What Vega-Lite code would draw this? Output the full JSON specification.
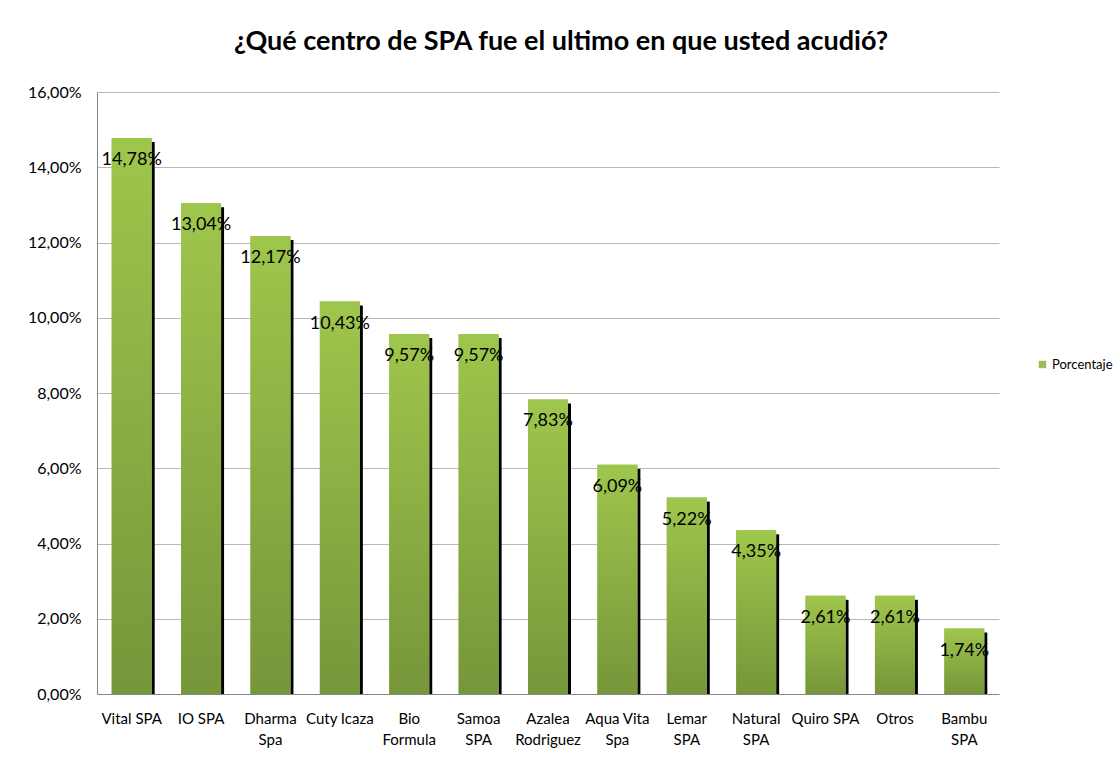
{
  "$schema": "https://vega.github.io/schema/vega-lite/v6.json",
  "width": 902,
  "height": 602,
  "autosize": {"type": "none"},
  "padding": {"left": 97, "top": 92, "right": 117, "bottom": 82},
  "background": "white",
  "title": {
    "text": "¿Qué centro de SPA fue el ultimo en que  usted acudió?",
    "font": "Lato",
    "fontSize": 27,
    "fontWeight": "bold",
    "color": "black",
    "anchor": "middle",
    "frame": "group",
    "dx": 13,
    "offset": 28
  },
  "data": {
    "values": [
      {"centro": "Vital SPA", "porcentaje": 0.1478},
      {"centro": "IO SPA", "porcentaje": 0.1304},
      {"centro": "Dharma Spa", "porcentaje": 0.1217},
      {"centro": "Cuty Icaza", "porcentaje": 0.1043},
      {"centro": "Bio Formula", "porcentaje": 0.0957},
      {"centro": "Samoa SPA", "porcentaje": 0.0957},
      {"centro": "Azalea Rodriguez", "porcentaje": 0.0783},
      {"centro": "Aqua Vita Spa", "porcentaje": 0.0609},
      {"centro": "Lemar SPA", "porcentaje": 0.0522},
      {"centro": "Natural SPA", "porcentaje": 0.0435},
      {"centro": "Quiro SPA", "porcentaje": 0.0261},
      {"centro": "Otros", "porcentaje": 0.0261},
      {"centro": "Bambu SPA", "porcentaje": 0.0174}
    ]
  },
  "encoding": {
    "x": {
      "field": "centro",
      "type": "nominal",
      "sort": null,
      "scale": {"paddingInner": 0, "paddingOuter": 0},
      "axis": {
        "title": null,
        "labelAngle": 0,
        "ticks": false,
        "domainColor": "#868686",
        "labelFont": "Lato",
        "labelFontSize": 15,
        "labelColor": "black",
        "labelPadding": 17,
        "labelLineHeight": 21,
        "labelLimit": 200,
        "labelExpr": "indexof(['Dharma Spa','Bio Formula','Samoa SPA','Azalea Rodriguez','Aqua Vita Spa','Lemar SPA','Natural SPA','Bambu SPA'], datum.value) >= 0 ? split(replace(datum.value, /\\s(\\S+)$/, '|$1'), '|') : datum.value"
      }
    },
    "y": {
      "field": "porcentaje",
      "type": "quantitative",
      "scale": {"domain": [0, 0.16], "nice": false},
      "axis": {
        "title": null,
        "values": [0, 0.02, 0.04, 0.06, 0.08, 0.1, 0.12, 0.14, 0.16],
        "format": ".2%",
        "ticks": false,
        "domainColor": "#868686",
        "gridColor": "#b8b8b8",
        "labelFont": "Lato",
        "labelFontSize": 16,
        "labelColor": "black",
        "labelPadding": 16
      }
    }
  },
  "layer": [
    {
      "mark": {"type": "bar", "size": 40},
      "encoding": {
        "color": {
          "datum": "Porcentaje",
          "scale": {"range": ["#9BBB59"]},
          "legend": {
            "title": null,
            "orient": "none",
            "legendX": 939,
            "legendY": 266,
            "symbolType": "square",
            "symbolSize": 55,
            "labelFont": "Lato",
            "labelFontSize": 13,
            "labelColor": "black",
            "labelOffset": 3,
            "labelLimit": 300
          }
        }
      }
    },
    {
      "mark": {
        "type": "rule",
        "color": "black",
        "strokeWidth": 3,
        "xOffset": 21.5,
        "yOffset": 4
      },
      "encoding": {"y2": {"datum": 0}}
    },
    {
      "mark": {
        "type": "bar",
        "size": 40,
        "color": {
          "gradient": "linear",
          "x1": 0, "y1": 0, "x2": 0, "y2": 1,
          "stops": [
            {"offset": 0, "color": "#9fc64c"},
            {"offset": 1, "color": "#76963a"}
          ]
        }
      }
    },
    {
      "mark": {
        "type": "text",
        "font": "Lato",
        "fontSize": 18,
        "color": "black",
        "baseline": "middle",
        "dy": 22
      },
      "encoding": {
        "text": {"field": "porcentaje", "type": "quantitative", "format": ".2%"}
      }
    }
  ],
  "config": {
    "view": {"stroke": null},
    "locale": {
      "number": {
        "decimal": ",",
        "thousands": ".",
        "grouping": [3],
        "currency": ["", " €"]
      }
    }
  }
}
